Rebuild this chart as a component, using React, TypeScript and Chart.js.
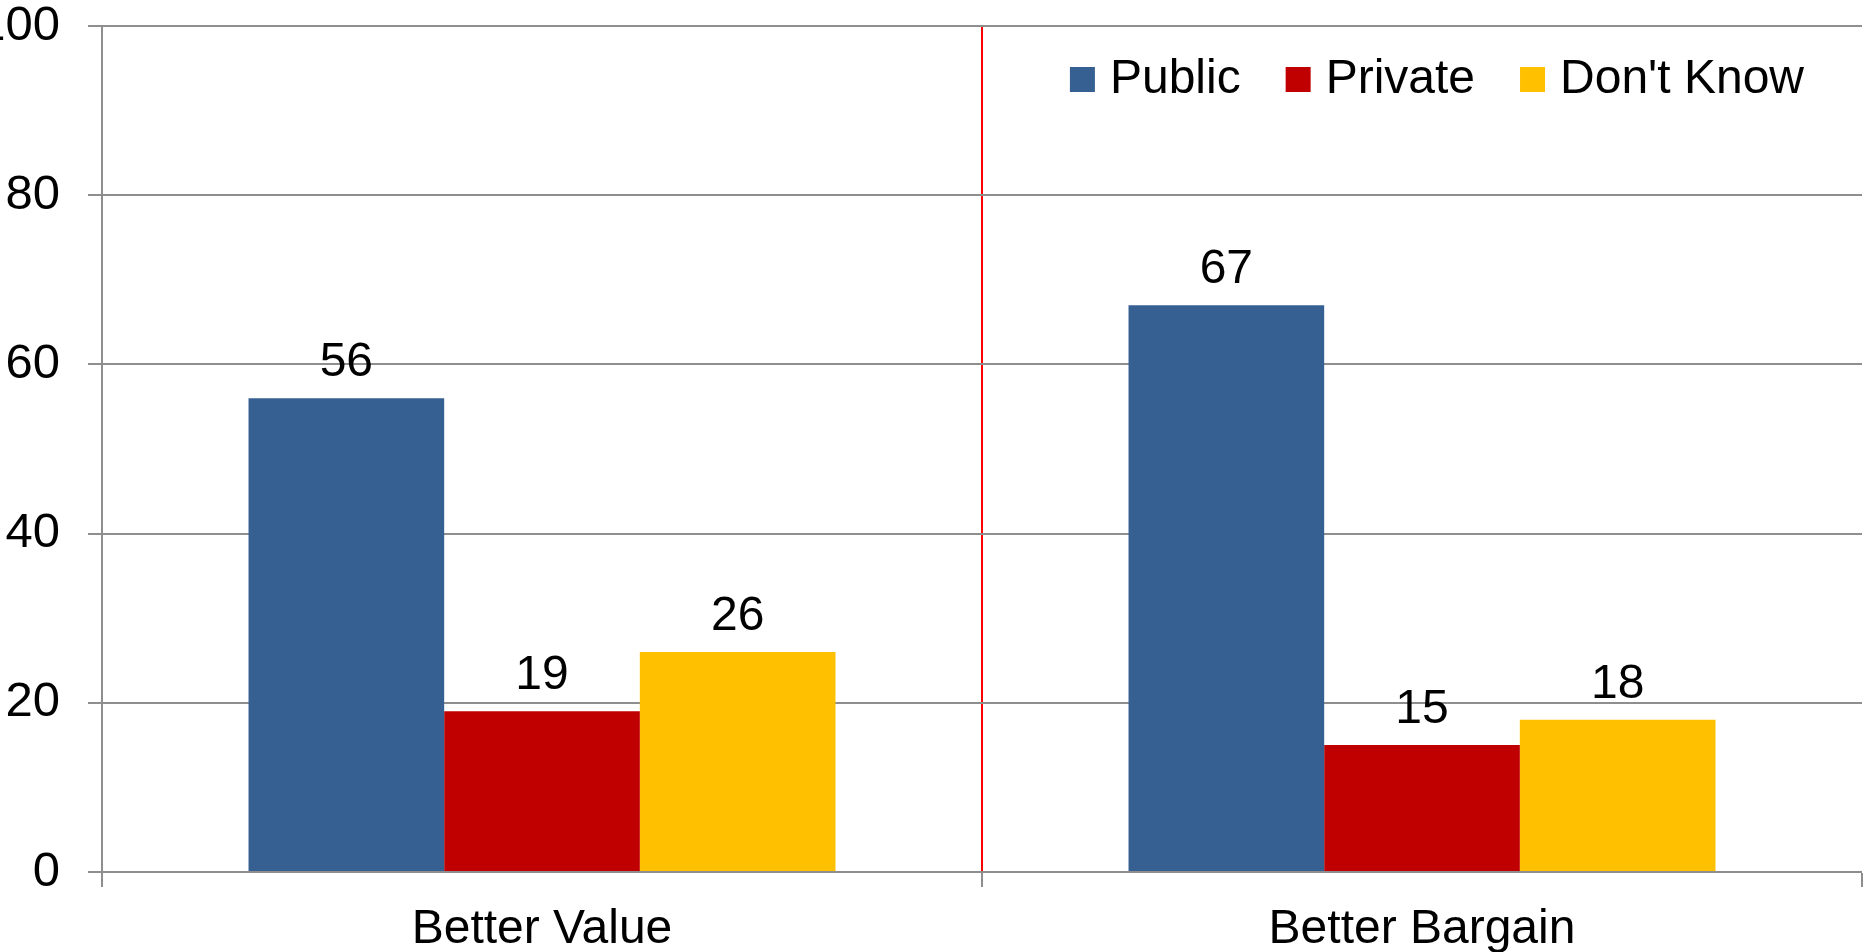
import React, { useEffect, useRef } from "react";
import { Chart, registerables } from "chart.js";

Chart.register(...registerables);

const categories = ["Better Value", "Better Bargain"];
const seriesNames = ["Public", "Private", "Don't Know"];
const publicValues = [56, 67];
const privateValues = [19, 15];
const dontKnowValues = [26, 18];
const seriesColors = ["#376092", "#C00000", "#FFC000"];
const yMin = 0;
const yMax = 100;
const yStep = 20;

const FONT = "'Liberation Sans', Arial, Helvetica, sans-serif";
const GRID = "#8e8e8e";
const TEXT_SIZE = 48;
const TICK_SIZE = 49;

const valueLabels = {
  id: "valueLabels",
  afterDatasetsDraw(chart: any) {
    const ctx = chart.ctx;
    ctx.save();
    ctx.font = `${TEXT_SIZE}px ${FONT}`;
    ctx.fillStyle = "#000";
    ctx.textAlign = "center";
    ctx.textBaseline = "alphabetic";
    chart.data.datasets.forEach((ds: any, di: number) => {
      const meta = chart.getDatasetMeta(di);
      meta.data.forEach((bar: any, i: number) => {
        ctx.fillText(String(ds.data[i]), bar.x, bar.y - 22);
      });
    });
    ctx.restore();
  },
};

const insideLegend = {
  id: "insideLegend",
  afterDraw(chart: any) {
    const ctx = chart.ctx;
    const ca = chart.chartArea;
    ctx.save();
    ctx.font = `${TEXT_SIZE}px ${FONT}`;
    const box = 25;
    const gap = 15;
    const between = 45;
    const items = chart.data.datasets.map((ds: any) => ({
      text: ds.label,
      color: ds.backgroundColor,
      w: ctx.measureText(ds.label).width,
    }));
    const total =
      items.reduce((s: number, it: any) => s + box + gap + it.w, 0) +
      between * (items.length - 1);
    let x = ca.right - 58 - total;
    const top = ca.top + 41;
    ctx.textAlign = "left";
    ctx.textBaseline = "alphabetic";
    items.forEach((it: any) => {
      ctx.fillStyle = it.color;
      ctx.fillRect(x, top, box, box);
      ctx.fillStyle = "#000";
      ctx.fillText(it.text, x + box + gap, top + box + 1);
      x += box + gap + it.w + between;
    });
    ctx.restore();
  },
};

export default function App() {
  const ref = useRef<HTMLCanvasElement | null>(null);

  useEffect(() => {
    if (!ref.current) return;
    const values = [publicValues, privateValues, dontKnowValues];
    const chart = new Chart(ref.current, {
      type: "bar",
      data: {
        labels: categories,
        datasets: seriesNames.map((name, i) => ({
          label: name,
          data: values[i],
          backgroundColor: seriesColors[i],
          borderWidth: 0,
          barPercentage: 1,
          categoryPercentage: 0.667,
        })),
      },
      options: {
        animation: false,
        responsive: true,
        maintainAspectRatio: false,
        layout: { padding: { top: 26, right: 2, bottom: 0, left: 0 } },
        plugins: {
          legend: { display: false },
          tooltip: { enabled: false },
        },
        scales: {
          x: {
            offset: true,
            afterFit: (s: any) => {
              s.height = 88;
              s.paddingLeft = 0;
              s.paddingRight = 0;
            },
            grid: {
              offset: true,
              drawTicks: true,
              tickLength: 15,
              color: (c: any) => (c.index === 1 ? "#FF0000" : "rgba(0,0,0,0)"),
              lineWidth: (c: any) => (c.index === 1 ? 2 : 0),
              tickColor: GRID,
              tickWidth: 2,
            },
            border: { color: GRID, width: 2 },
            ticks: {
              color: "#000",
              padding: 14,
              font: { family: FONT, size: TEXT_SIZE },
            },
          },
          y: {
            min: yMin,
            max: yMax,
            afterFit: (s: any) => {
              s.width = 119;
              s.paddingTop = 0;
              s.paddingBottom = 0;
            },
            grid: {
              color: GRID,
              lineWidth: 2,
              tickLength: 14,
              drawTicks: true,
            },
            border: { color: GRID, width: 2 },
            ticks: {
              stepSize: yStep,
              color: "#000",
              padding: 28,
              font: { family: FONT, size: TICK_SIZE },
            },
          },
        },
      },
      plugins: [valueLabels, insideLegend],
    });
    return () => chart.destroy();
  }, []);

  return (
    <div
      style={{
        position: "fixed",
        left: -17,
        top: 0,
        width: 1881,
        height: 960,
      }}
    >
      <canvas ref={ref} />
    </div>
  );
}
